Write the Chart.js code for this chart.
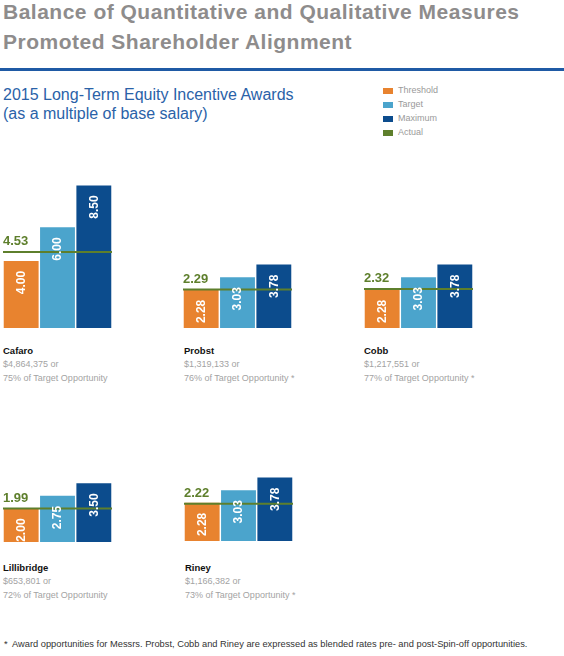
<!DOCTYPE html>
<html>
<head>
<meta charset="utf-8">
<script src="https://cdn.jsdelivr.net/npm/chart.js@4/dist/chart.umd.min.js"></script>
<style>
  html, body { margin: 0; padding: 0; background: #fff; }
  #wrap { position: relative; width: 564px; height: 656px; overflow: hidden; background: #fff; font-family: "Liberation Sans", Arial, Helvetica, sans-serif; }
  .t { position: absolute; white-space: nowrap; line-height: 1; }
  canvas.panel { position: absolute; }
</style>
</head>
<body>
<div id="wrap"></div>
<script>
// ---- data ----
const seriesNames = ['Threshold', 'Target', 'Maximum', 'Actual'];
const executives = ['Cafaro', 'Probst', 'Cobb', 'Lillibridge', 'Riney'];
const threshold = [4.00, 2.28, 2.28, 2.00, 2.28];
const target    = [6.00, 3.03, 3.03, 2.75, 3.03];
const maximum   = [8.50, 3.78, 3.78, 3.50, 3.78];
const actual    = [4.53, 2.29, 2.32, 1.99, 2.22];
const payout    = ['$4,864,375', '$1,319,133', '$1,217,551', '$653,801', '$1,166,382'];
const pctOfTarget = ['75%', '76%', '77%', '72%', '73%'];
const blended   = [false, true, true, false, true];
const yTicks = [0, 9];

// ---- styles / layout ----
const colors = { threshold: '#E8832F', target: '#4BA4CC', maximum: '#0C4C8D', actual: '#5E7F2C' };
const panelLeft = [3, 183, 364, 3, 184];
const panelBase = [328, 328, 328, 542, 541];
const panelW = 109, panelH = 151;
const nameBase = [354.5, 354.5, 354.5, 571, 571];

const wrap = document.getElementById('wrap');
function addText(txt, x, top, size, weight, color) {
  const d = document.createElement('div');
  d.className = 't';
  d.textContent = txt;
  d.style.left = x + 'px';
  d.style.top = top + 'px';
  d.style.fontSize = size + 'px';
  d.style.fontWeight = weight;
  d.style.color = color;
  wrap.appendChild(d);
  return d;
}
// baseline helper for line-height:1 Arial metrics
function addTextBase(txt, x, baseline, size, weight, color) {
  return addText(txt, x, baseline - 0.8465 * size, size, weight, color);
}

// title
const t1 = addTextBase('Balance of Quantitative and Qualitative Measures', 3, 18.5, 21, 'bold', '#8E8C8C');
const t2 = addTextBase('Promoted Shareholder Alignment', 3, 49, 21, 'bold', '#8E8C8C');
t1.style.letterSpacing = '0.5px';
t2.style.letterSpacing = '0.5px';
const rule = document.createElement('div');
rule.style.cssText = 'position:absolute;left:0;top:68px;width:564px;height:3px;background:#1F5AA5;';
wrap.appendChild(rule);
addTextBase('2015 Long-Term Equity Incentive Awards', 3, 100.7, 16, 'normal', '#2A62A8');
addTextBase('(as a multiple of base salary)', 3, 119.3, 16, 'normal', '#2A62A8');

// legend
const legendColors = [colors.threshold, colors.target, colors.maximum, colors.actual];
const legendY = [90.7, 104.7, 118.7, 132.6];
seriesNames.forEach((n, i) => {
  const sw = document.createElement('div');
  sw.style.cssText = `position:absolute;left:383px;top:${legendY[i] - 3}px;width:10px;height:6px;background:${legendColors[i]};`;
  wrap.appendChild(sw);
  addTextBase(n, 398, legendY[i] + 3.3, 9, 'normal', '#9A9A9A');
});

// footnote
addTextBase('*', 4, 648.3, 9.3, 'normal', '#333');
addTextBase('Award opportunities for Messrs. Probst, Cobb and Riney are expressed as blended rates pre- and post-Spin-off opportunities.', 12, 648.3, 9.3, 'normal', '#333');

// panel plugin: actual line and labels via scales
const panelPlugin = {
  id: 'panelDecor',
  afterDatasetsDraw(chart, args, opts) {
    const ctx = chart.ctx;
    const ca = chart.chartArea;
    const ys = chart.scales.y;
    const yA = ys.getPixelForValue(opts.actual);
    ctx.save();
    ctx.strokeStyle = colors.actual;
    ctx.lineWidth = 2;
    ctx.beginPath();
    ctx.moveTo(ca.left - 1, yA);
    ctx.lineTo(ca.right, yA);
    ctx.stroke();
    // bar labels
    const meta = chart.getDatasetMeta(0);
    ctx.fillStyle = '#fff';
    ctx.font = 'bold 12px "Liberation Sans", Arial, sans-serif';
    ctx.textAlign = 'right';
    ctx.textBaseline = 'middle';
    meta.data.forEach((bar, i) => {
      const v = chart.data.datasets[0].data[i];
      ctx.save();
      ctx.translate(bar.x + 0.5, bar.y + 10);
      ctx.rotate(-Math.PI / 2);
      ctx.fillText(v.toFixed(2), 0, 0);
      ctx.restore();
    });
    // actual label
    ctx.fillStyle = colors.actual;
    ctx.font = 'bold 13px "Liberation Sans", Arial, sans-serif';
    ctx.textAlign = 'left';
    ctx.textBaseline = 'alphabetic';
    ctx.fillText(opts.actual.toFixed(2), ca.left, yA - 7);
    ctx.restore();
  }
};

executives.forEach((name, i) => {
  const c = document.createElement('canvas');
  c.className = 'panel';
  c.width = panelW; c.height = panelH;
  c.style.left = panelLeft[i] + 'px';
  c.style.top = (panelBase[i] - panelH) + 'px';
  c.style.width = panelW + 'px';
  c.style.height = panelH + 'px';
  wrap.appendChild(c);
  new Chart(c, {
    type: 'bar',
    data: {
      labels: seriesNames.slice(0, 3),
      datasets: [{
        data: [threshold[i], target[i], maximum[i]],
        backgroundColor: [colors.threshold, colors.target, colors.maximum],
        borderWidth: 0,
        barPercentage: 0.96,
        categoryPercentage: 1
      }]
    },
    options: {
      responsive: false,
      animation: false,
      devicePixelRatio: 1,
      layout: { padding: 0 },
      plugins: { legend: { display: false }, tooltip: { enabled: false }, panelDecor: { actual: actual[i] } },
      scales: {
        x: { display: false, offset: true },
        y: { display: false, min: yTicks[0], max: yTicks[1] }
      }
    },
    plugins: [panelPlugin]
  });
  const nx = panelLeft[i] + (i === 1 || i === 4 ? 1 : 0);
  addTextBase(name, nx, nameBase[i], 9.5, 'bold', '#111');
  addTextBase(payout[i] + ' or', nx, nameBase[i] + 13.5, 9, 'normal', '#A3A3A3');
  addTextBase(pctOfTarget[i] + ' of Target Opportunity' + (blended[i] ? ' *' : ''), nx, nameBase[i] + 27.5, 9, 'normal', '#A3A3A3');
});
</script>
</body>
</html>
